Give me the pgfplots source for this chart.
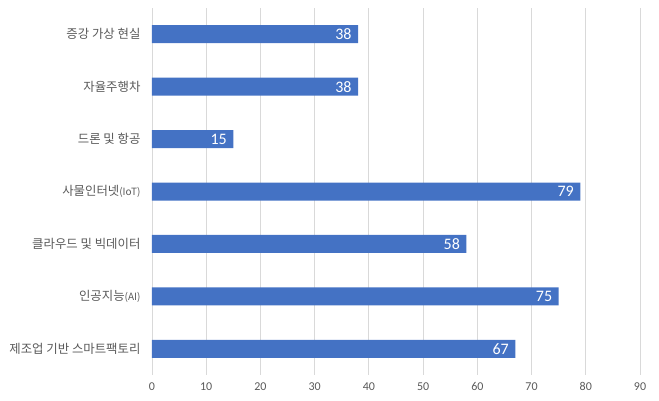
\documentclass[border=0pt]{standalone}
\usepackage{pgfplots}
\pgfplotsset{compat=1.18}
\usepackage{fontspec}
\setmainfont{Carlito}
\newfontfamily\kr{Noto Sans CJK KR}
\definecolor{barblue}{HTML}{4472C4}
\definecolor{txtgray}{HTML}{595959}
\definecolor{gridgray}{HTML}{D9D9D9}
\newcommand\sm[1]{{\fontsize{10}{10}\selectfont #1}}
\begin{document}
\begin{tikzpicture}
\begin{axis}[
  scale only axis,
  width=488pt, height=367pt,
  xbar, bar width=18pt,
  xmin=0, xmax=90,
  ymin=-0.5, ymax=6.5,
  y dir=reverse,
  xtick={0,10,...,90},
  ytick={0,1,2,3,4,5,6},
  yticklabels={증강 가상 현실,자율주행차,드론 및 항공,{사물인터넷\sm{(IoT)}},클라우드 및 빅데이터,{인공지능\sm{(AI)}},제조업 기반 스마트팩토리},
  yticklabel style={font=\kr\fontsize{12.4}{13}\selectfont, text=txtgray, xshift=-8pt},
  xticklabel style={font=\fontsize{12}{13}\selectfont, text=txtgray, yshift=-4pt},
  /pgf/number format/assume math mode=true,
  major tick length=0pt,
  axis line style={draw=none},
  xmajorgrids, grid style={gridgray, line width=0.8pt},
  nodes near coords,
  nodes near coords style={anchor=east, text=white, font=\fontsize{16}{17}\selectfont, xshift=-3pt},
]
\addplot[fill=barblue, draw=none] coordinates {(38,0) (38,1) (15,2) (79,3) (58,4) (75,5) (67,6)};
\coordinate (bl) at (rel axis cs:0,0);
\coordinate (tr) at (rel axis cs:1,1);
\end{axis}
\pgfresetboundingbox
\useasboundingbox ([xshift=-152pt,yshift=-26pt]bl) rectangle ([xshift=19pt,yshift=8pt]tr);
\end{tikzpicture}
\end{document}
